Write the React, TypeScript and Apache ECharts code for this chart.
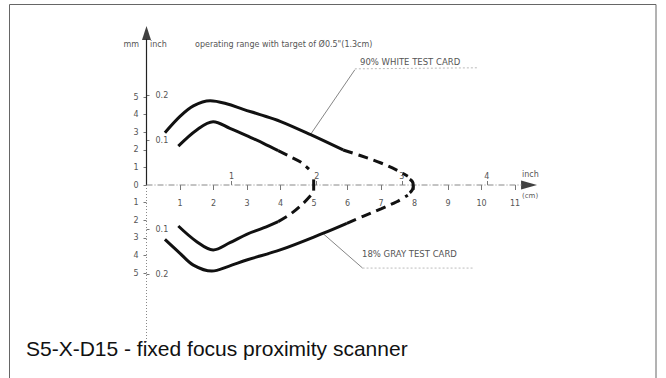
import React, { useEffect, useRef } from "react";
import * as echarts from "echarts";

// ---- axis extents (cm / mm) ----
const X_MAX_CM = 11.7;
const Y_MAX_MM = 9;
const CM_PER_INCH = 2.54;
const MM_PER_INCH = 25.4;

// ---- tick labels ----
const cmTicks = [1, 2, 3, 4, 5, 6, 7, 8, 9, 10, 11];
const inchXTicks = [1, 2, 3, 4];
const mmTicks = [-5, -4, -3, -2, -1, 0, 1, 2, 3, 4, 5];
const inchYTicks = [-0.2, -0.1, 0.1, 0.2];

// ---- curves: [distance cm, offset mm] ----
const whiteUpperSolid = [
  [0.55, 2.97], [1.0, 3.9], [1.4, 4.5], [1.9, 4.79], [2.39, 4.62], [2.89, 4.3],
  [3.39, 4.0], [3.99, 3.62], [4.9, 2.86], [5.87, 1.99],
];
const whiteUpperDashed = [
  [5.87, 1.99], [6.4, 1.66], [7.0, 1.25], [7.47, 0.85], [7.8, 0.5],
];
const whiteLowerSolid = [
  [0.55, -3.09], [1.0, -3.88], [1.4, -4.55], [1.95, -4.89], [2.45, -4.62], [2.99, -4.26],
  [3.99, -3.69], [5.28, -2.74], [5.98, -2.18],
];
const whiteLowerDashed = [
  [5.98, -2.18], [6.5, -1.75], [7.0, -1.35], [7.47, -0.95], [7.8, -0.58],
];
const whiteTip = [[7.86, 0.32], [7.96, 0.05], [7.96, -0.12], [7.86, -0.45]];

const grayUpperSolid = [
  [0.95, 2.21], [1.5, 3.13], [1.99, 3.6], [2.49, 3.22], [2.99, 2.8], [3.49, 2.37], [3.93, 1.95],
];
const grayUpperDashed = [[3.93, 1.95], [4.3, 1.6], [4.6, 1.3], [4.85, 0.9]];
const grayLowerSolid = [
  [0.95, -2.33], [1.5, -3.22], [1.99, -3.69], [2.49, -3.28], [2.99, -2.8], [3.49, -2.44], [3.93, -2.08],
];
const grayLowerDashed = [[3.93, -2.08], [4.3, -1.65], [4.68, -1.04], [4.9, -0.6]];
const grayTip = [[4.99, 0.32], [4.99, -0.32]];

// ---- annotation leaders ----
const whiteLeader = [[4.9, 2.88], [6.22, 6.55]];
const whiteUnderline = [[6.22, 6.6], [9.9, 6.66]];
const grayLeader = [[5.27, -2.76], [6.45, -4.72]];
const grayUnderline = [[6.45, -4.72], [9.75, -4.72]];

// ---- axes drawn as marks ----
const yAxisUpper = [[0, 0], [0, 8.3]];
const yAxisLower = [[0, 0], [0, -Y_MAX_MM]];
const xAxisLine = [[0, 0], [11.2, 0]];
const yArrow = [[0, 8.64]];
const xArrow = [[11.42, 0]];

const texts = {
  title: "S5-X-D15 - fixed focus proximity scanner",
  range: 'operating range with target of Ø0.5"(1.3cm)',
  white: "90% WHITE TEST CARD",
  gray: "18% GRAY TEST CARD",
};

const FONT = "Liberation Sans, Arial, sans-serif";
const SMALL = "DejaVu Sans, sans-serif";
const LBL = "#555";

// pixel layout of the plot
const PX_LEFT = 146.5;
const PX_CM = 33.5;
const PX_MM = 17.6;
const PX_ZERO_Y = 185;

export default function App() {
  const ref = useRef<HTMLDivElement>(null);
  useEffect(() => {
    if (!ref.current) return;
    const chart = echarts.init(ref.current, null, { renderer: "svg" });
    const curve = (data: number[][], dashed: boolean, smooth = 0.35) => ({
      type: "line",
      data,
      smooth,
      symbol: "none",
      silent: true,
      lineStyle: {
        color: "#111",
        width: 3,
        type: dashed ? [10, 6] : "solid",
        cap: "butt",
      },
      z: 5,
    });
    const thin = (data: number[][], color: string, width: number, type: any = "solid") => ({
      type: "line",
      data,
      symbol: "none",
      silent: true,
      lineStyle: { color, width, type },
      z: 3,
    });
    const hidden = { show: false };
    const W = X_MAX_CM * PX_CM;
    const HH = Y_MAX_MM * PX_MM;
    const top = PX_ZERO_Y - HH;
    const lblStyle = { fontSize: 8, color: LBL, fontFamily: SMALL };
    chart.setOption({
      animation: false,
      grid: [
        { left: PX_LEFT, top, width: W, height: 2 * HH },
        { left: PX_LEFT, top, width: W, height: HH },
        { left: PX_LEFT, top: PX_ZERO_Y, width: W, height: HH },
        { left: PX_LEFT, top, width: W, height: 2 * HH },
      ],
      xAxis: [
        { type: "value", gridIndex: 0, min: 0, max: X_MAX_CM, show: false },
        {
          type: "value",
          gridIndex: 1,
          min: 0,
          max: X_MAX_CM,
          position: "bottom",
          axisLine: hidden,
          axisTick: { show: true, customValues: cmTicks, length: 5, lineStyle: { color: "#777" } },
          axisLabel: { customValues: cmTicks, margin: 14, ...lblStyle },
          splitLine: hidden,
        },
        {
          type: "value",
          gridIndex: 2,
          min: 0,
          max: X_MAX_CM / CM_PER_INCH,
          position: "top",
          axisLine: hidden,
          axisTick: { show: true, customValues: inchXTicks, length: 4, lineStyle: { color: "#777" } },
          axisLabel: { customValues: inchXTicks, margin: 5, ...lblStyle },
          splitLine: hidden,
        },
        { type: "value", gridIndex: 3, min: 0, max: 1, show: false },
      ],
      yAxis: [
        {
          type: "value",
          gridIndex: 0,
          min: -Y_MAX_MM,
          max: Y_MAX_MM,
          position: "left",
          axisLine: hidden,
          axisTick: { show: true, customValues: mmTicks, length: 3, lineStyle: { color: "#777" } },
          axisLabel: {
            customValues: mmTicks,
            margin: 8,
            ...lblStyle,
            formatter: (v: number) => String(Math.abs(v)),
          },
          splitLine: hidden,
        },
        { type: "value", gridIndex: 1, min: 0, max: Y_MAX_MM, show: false },
        { type: "value", gridIndex: 2, min: -Y_MAX_MM, max: 0, show: false },
        {
          type: "value",
          gridIndex: 3,
          min: -Y_MAX_MM / MM_PER_INCH,
          max: Y_MAX_MM / MM_PER_INCH,
          position: "left",
          axisLine: hidden,
          axisTick: { show: true, inside: true, customValues: inchYTicks, length: 3, lineStyle: { color: "#777" } },
          axisLabel: {
            customValues: inchYTicks,
            inside: true,
            margin: 9,
            ...lblStyle,
            formatter: (v: number) => Math.abs(v).toFixed(1),
          },
          splitLine: hidden,
        },
      ],
      series: [
        thin(yAxisUpper, "#222", 1.2),
        thin(yAxisLower, "#888", 1, [1, 2]),
        thin(xAxisLine, "#888", 1, [6, 2, 1, 2]),
        {
          type: "scatter",
          data: yArrow,
          symbol: "triangle",
          symbolSize: [9, 14],
          itemStyle: { color: "#111" },
          silent: true,
        },
        {
          type: "scatter",
          data: xArrow,
          symbol: "triangle",
          symbolSize: [9, 16],
          symbolRotate: -90,
          itemStyle: { color: "#111" },
          silent: true,
        },
        curve(whiteUpperSolid, false),
        curve(whiteUpperDashed, true),
        curve(whiteLowerSolid, false),
        curve(whiteLowerDashed, true),
        curve(whiteTip, false, 0.5),
        curve(grayUpperSolid, false),
        curve(grayUpperDashed, true),
        curve(grayLowerSolid, false),
        curve(grayLowerDashed, true),
        curve(grayTip, false, 0),
        thin(whiteLeader, "#666", 0.8),
        thin(whiteUnderline, "#aaa", 0.8, [2, 2]),
        thin(grayLeader, "#666", 0.8),
        thin(grayUnderline, "#aaa", 0.8, [2, 2]),
      ],
      graphic: [
        {
          type: "rect",
          shape: { x: 9.5, y: 4.5, width: 646.5, height: 380 },
          style: { fill: "none", stroke: "#666", lineWidth: 1 },
          silent: true,
        },
        { type: "text", x: 139, y: 44, style: { text: "mm", fontSize: 8, fill: LBL, fontFamily: SMALL, align: "right", verticalAlign: "middle" } },
        { type: "text", x: 150, y: 44, style: { text: "inch", fontSize: 8, fill: LBL, fontFamily: SMALL, align: "left", verticalAlign: "middle" } },
        { type: "text", x: 195, y: 44, style: { text: texts.range, fontSize: 8, fill: LBL, fontFamily: SMALL, align: "left", verticalAlign: "middle" } },
        { type: "text", x: 360, y: 62, style: { text: texts.white, fontSize: 8.5, fill: LBL, fontFamily: SMALL, align: "left", verticalAlign: "middle" } },
        { type: "text", x: 362, y: 254, style: { text: texts.gray, fontSize: 8.5, fill: LBL, fontFamily: SMALL, align: "left", verticalAlign: "middle" } },
        { type: "text", x: 522, y: 174, style: { text: "inch", fontSize: 8, fill: LBL, fontFamily: SMALL, align: "left", verticalAlign: "middle" } },
        { type: "text", x: 522, y: 196, style: { text: "(cm)", fontSize: 7, fill: LBL, fontFamily: SMALL, align: "left", verticalAlign: "middle" } },
        { type: "text", x: 26, y: 348, style: { text: texts.title, fontSize: 21, fill: "#111", fontFamily: FONT, align: "left", verticalAlign: "middle" } },
      ],
    });
    return () => chart.dispose();
  }, []);
  return (
    <div
      ref={ref}
      style={{ position: "fixed", left: 0, top: 0, width: 666, height: 378, background: "#fff" }}
    />
  );
}
